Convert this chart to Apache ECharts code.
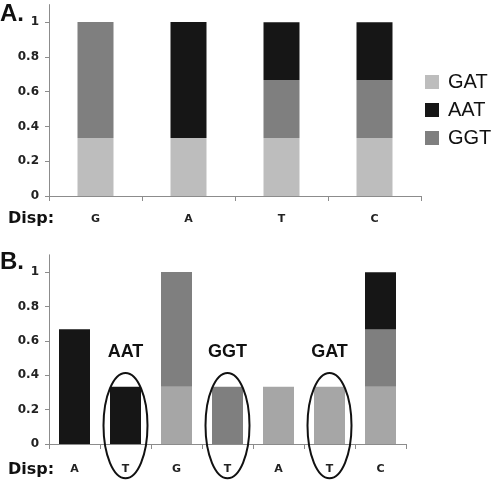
<!DOCTYPE html>
<html>
<head>
<meta charset="utf-8">
<script src="https://cdn.jsdelivr.net/npm/echarts@6/dist/echarts.min.js"></script>
<style>html,body{margin:0;padding:0;background:#fff;}#c{width:500px;height:480px;}</style>
</head>
<body>
<div id="c"></div>
<script>
// Panel A
var catsA = ['G', 'A', 'T', 'C'];
var gatA = [0.333, 0.333, 0.333, 0.333];
var ggtA = [0.667, 0, 0.333, 0.333];
var aatA = [0, 0.667, 0.333, 0.333];
// Panel B
var catsB = ['A', 'T', 'G', 'T', 'A', 'T', 'C'];
var gatB = [0, 0, 0.333, 0, 0.333, 0.333, 0.333];
var ggtB = [0, 0, 0.667, 0.333, 0, 0, 0.333];
var aatB = [0.667, 0.333, 0, 0, 0, 0, 0.333];
// annotations (circled bars)
var annotIdx = [1, 3, 5];
var annotText = ['AAT', 'GGT', 'GAT'];
var yTicks = [0, 0.2, 0.4, 0.6, 0.8, 1];

var cGatA = '#bdbdbd', cGatB = '#a6a6a6', cGgt = '#7f7f7f', cAat = '#161616';

function yAxis(gi) {
  return {
    gridIndex: gi, type: 'value', min: 0, max: 1.1, interval: 0.2,
    axisLine: {show: true, lineStyle: {color: '#8c8c8c', width: 1}},
    axisTick: {show: true, length: 4, lineStyle: {color: '#8c8c8c'}},
    splitLine: {show: false},
    axisLabel: {showMaxLabel: false, color: '#222', fontFamily: 'DejaVu Sans', fontWeight: 'bold', fontSize: 12, margin: 10,
      formatter: function (v) { return yTicks.indexOf(Math.round(v * 10) / 10) >= 0 ? String(Math.round(v * 10) / 10) : ''; }}
  };
}
function xAxis(gi, cats, margin) {
  return {
    gridIndex: gi, type: 'category', data: cats,
    axisLine: {show: true, lineStyle: {color: '#8c8c8c', width: 1}},
    axisTick: {show: true, length: 5, lineStyle: {color: '#8c8c8c'}},
    axisLabel: {color: '#222', fontFamily: 'DejaVu Sans', fontWeight: 'bold', fontSize: 11, margin: margin}
  };
}
function bar(name, xi, data, color, w) {
  return {name: name, type: 'bar', stack: 's' + xi, xAxisIndex: xi, yAxisIndex: xi, data: data,
    barWidth: w, itemStyle: {color: color}, emphasis: {disabled: true}};
}

var chart = echarts.init(document.getElementById('c'), null, {renderer: 'canvas'});
var option = {
  animation: false,
  backgroundColor: '#fff',
  grid: [
    {left: 49, right: 79, top: 4.6, bottom: 284},
    {left: 49, right: 94, top: 254.8, bottom: 36}
  ],
  xAxis: [xAxis(0, catsA, 18), xAxis(1, catsB, 20)],
  yAxis: [yAxis(0), yAxis(1)],
  legend: {
    orient: 'vertical', left: 420, top: 67, itemWidth: 14, itemHeight: 14, itemGap: 8,
    icon: 'rect', data: ['GAT', 'AAT', 'GGT'],
    textStyle: {fontFamily: 'Liberation Sans', fontSize: 20, color: '#111', padding: [0, 0, 0, 4]}
  },
  series: [
    bar('GAT', 0, gatA, cGatA, 36),
    bar('GGT', 0, ggtA, cGgt, 36),
    bar('AAT', 0, aatA, cAat, 36),
    bar('GAT', 1, gatB, cGatB, 31),
    bar('GGT', 1, ggtB, cGgt, 31),
    bar('AAT', 1, aatB, cAat, 31)
  ],
  graphic: [
    {type: 'text', left: 0, top: 2, style: {text: 'A.', font: 'bold 24px "Liberation Sans"', fill: '#111'}},
    {type: 'text', left: 0, top: 250, style: {text: 'B.', font: 'bold 24px "Liberation Sans"', fill: '#111'}},
    {type: 'text', left: 8, top: 211, style: {text: 'Disp:', font: 'bold 16px "DejaVu Sans"', fill: '#111'}},
    {type: 'text', left: 8, top: 462, style: {text: 'Disp:', font: 'bold 16px "DejaVu Sans"', fill: '#111'}}
  ]
};
chart.setOption(option);

// annotations: ellipses and labels placed through the axes of panel B
var g = [];
annotIdx.forEach(function (idx, k) {
  var c = chart.convertToPixel({gridIndex: 1}, [idx, 0.107]);
  var top = chart.convertToPixel({gridIndex: 1}, [idx, 0.413]);
  var lbl = chart.convertToPixel({gridIndex: 1}, [idx, 0.535]);
  var ry = c[1] - top[1];
  g.push({type: 'ellipse', shape: {cx: c[0], cy: c[1], rx: 22, ry: ry}, z: 100,
    style: {fill: 'none', stroke: '#111', lineWidth: 2}});
  g.push({type: 'text', x: lbl[0], y: lbl[1], z: 100,
    style: {text: annotText[k], font: 'bold 18px "Liberation Sans"', fill: '#111', align: 'center', verticalAlign: 'middle'}});
});
chart.setOption({graphic: option.graphic.concat(g)});
</script>
</body>
</html>
